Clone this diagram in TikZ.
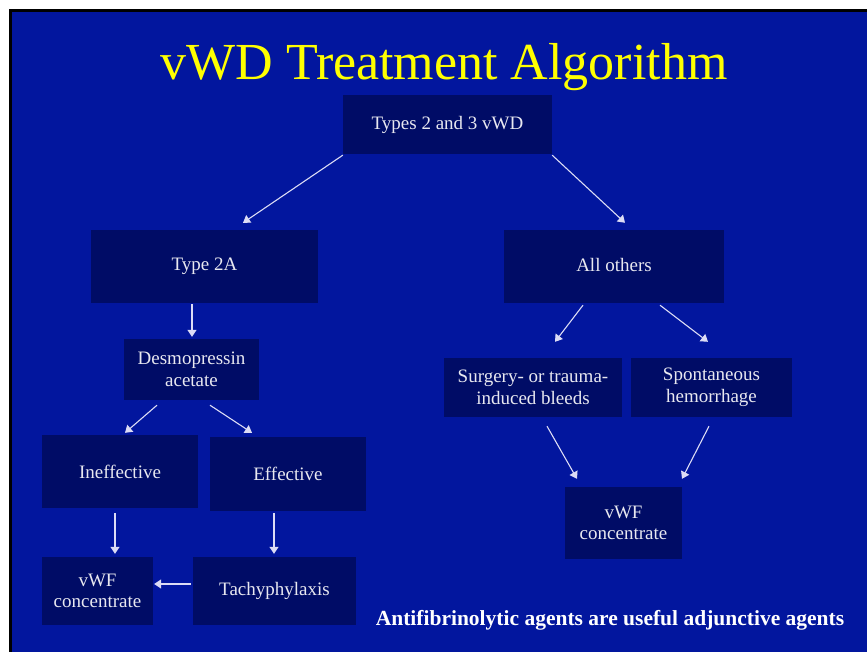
\documentclass[tikz,border=0pt]{standalone}
\usepackage{fontspec}
\setmainfont{Liberation Serif}
\usetikzlibrary{arrows.meta}
\definecolor{slidebg}{RGB}{2,22,158}
\definecolor{boxc}{RGB}{0,12,102}
\definecolor{titlec}{RGB}{255,255,0}
\definecolor{txtc}{RGB}{232,232,240}
\definecolor{arrc}{RGB}{220,220,245}
\begin{document}
\begin{tikzpicture}[x=1pt,y=-1pt,
  bx/.style={fill=boxc,draw=none,inner sep=0pt,align=center,text=txtc,
    font=\fontsize{19}{21.5}\selectfont},
  arr/.style={draw=arrc,line width=1.1pt,-{Triangle[width=9pt,length=7pt]}}]
\useasboundingbox (0,0) rectangle (867,652);
\fill[white] (0,0) rectangle (867,652);
\fill[black] (9,9) rectangle (867,652);
\fill[slidebg] (12,12) rectangle (867,652);
\node[anchor=base,text=titlec,font=\fontsize{52}{60}\selectfont] (title) at (444,80) {vWD Treatment Algorithm};
\node[bx,minimum width=209pt,minimum height=59pt] (types) at (447.5,124.5) {Types 2 and 3 vWD};
\node[bx,minimum width=227pt,minimum height=73pt] (t2a) at (204.5,266.5) {Type 2A};
\node[bx,minimum width=220pt,minimum height=73pt] (others) at (614,266.5) {\raisebox{4pt}{All others}};
\node[bx,minimum width=135pt,minimum height=61pt] (desmo) at (191.5,369.5) {Desmopressin\\acetate};
\node[bx,minimum width=156pt,minimum height=73pt] (ineff) at (120,471.5) {Ineffective};
\node[bx,minimum width=156pt,minimum height=74pt] (eff) at (288,474) {Effective};
\node[bx,minimum width=111pt,minimum height=68pt] (vwfL) at (97.5,591) {vWF\\concentrate};
\node[bx,minimum width=163pt,minimum height=68pt] (tachy) at (274.5,591) {Tachyphylaxis};
\node[bx,minimum width=178pt,minimum height=59pt] (surg) at (533,387.5) {Surgery- or trauma-\\induced bleeds};
\node[bx,minimum width=161pt,minimum height=59pt] (spont) at (711.5,387.5) {Spontaneous\\hemorrhage};
\node[bx,minimum width=117pt,minimum height=72pt] (vwfR) at (623.5,523) {vWF\\concentrate};
\node[anchor=base,text=white,font=\bfseries\fontsize{21.5}{24}\selectfont] (note) at (610,625) {Antifibrinolytic agents are useful adjunctive agents};
\draw[arr] ([shift={(0,1)}]types.south west) -- ([shift={(38.5,-7)}]t2a.north);
\draw[arr] ([shift={(0,1)}]types.south east) -- ([shift={(11,-7)}]others.north);
\draw[arr] ([shift={(-12.5,1)}]t2a.south) -- ([shift={(0.5,-2)}]desmo.north);
\draw[arr] ([shift={(-34.5,5)}]desmo.south) -- ([shift={(5,-2)}]ineff.north);
\draw[arr] ([shift={(18.5,5)}]desmo.south) -- ([shift={(-36,-4)}]eff.north);
\draw[arr] ([shift={(-5,5)}]ineff.south) -- ([shift={(17.5,-3)}]vwfL.north);
\draw[arr] ([shift={(-14,2)}]eff.south) -- ([shift={(-0.5,-3)}]tachy.north);
\draw[arr] ([shift={(-2,-7)}]tachy.west) -- ([shift={(1,-7)}]vwfL.east);
\draw[arr] ([shift={(-31,2)}]others.south) -- ([shift={(22,-16)}]surg.north);
\draw[arr] ([shift={(46,2)}]others.south) -- ([shift={(-3.5,-16)}]spont.north);
\draw[arr] ([shift={(14,9)}]surg.south) -- ([shift={(-46.5,-8)}]vwfR.north);
\draw[arr] ([shift={(-2.5,9)}]spont.south) -- ([shift={(58.5,-8)}]vwfR.north);
\end{tikzpicture}
\end{document}
